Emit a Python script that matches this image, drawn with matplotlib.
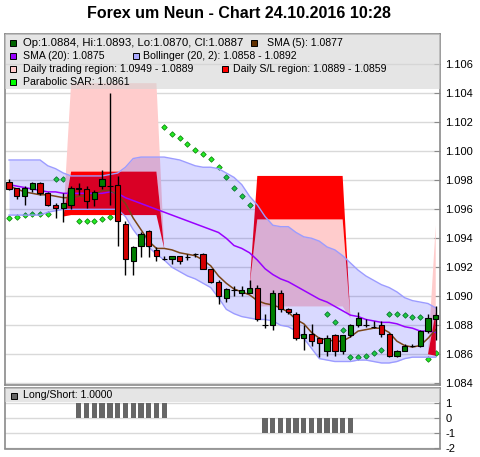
import numpy as np
import matplotlib
matplotlib.use("Agg")
import matplotlib.pyplot as plt
from matplotlib.patches import Rectangle

plt.rcParams['font.family'] = ['Liberation Sans', 'DejaVu Sans']

N = float('nan')

# EUR/USD candles
opens = [1.0979, 1.0975, 1.0969, 1.0974, 1.0978, 1.0971, 1.0963, 1.0961, 1.0963, 1.0975,
         1.0974, 1.0967, 1.0976, 1.0976, 1.0977, 1.0950, 1.0924, 1.0935, 1.0945, 1.0932,
         1.0926, 1.0926, 1.0928, 1.0927, 1.0929, 1.0929, 1.0919, 1.0910, 1.0899, 1.0904,
         1.0902, 1.0902, 1.0906, 1.0880, 1.0880, 1.0902, 1.0891, 1.0888, 1.0871, 1.0874,
         1.0871, 1.0862, 1.0873, 1.0862, 1.0873, 1.0880, 1.0880, 1.0879, 1.0880, 1.0874,
         1.0859, 1.0862, 1.0866, 1.0866, 1.0876, 1.0884]
highs = [1.0981, 1.0975, 1.0976, 1.0979, 1.0979, 1.0972, 1.0964, 1.0971, 1.0976, 1.0978,
         1.0976, 1.0973, 1.0987, 1.1040, 1.0983, 1.0952, 1.0935, 1.0944, 1.0946, 1.0934,
         1.0928, 1.0928, 1.0928, 1.0929, 1.0930, 1.0930, 1.0919, 1.0911, 1.0906, 1.0907,
         1.0907, 1.0911, 1.0908, 1.0888, 1.0904, 1.0904, 1.0892, 1.0889, 1.0880, 1.0881,
         1.0872, 1.0873, 1.0874, 1.0873, 1.0881, 1.0889, 1.0884, 1.0883, 1.0883, 1.0875,
         1.0863, 1.0867, 1.0867, 1.0877, 1.0888, 1.0893]
lows = [1.0973, 1.0967, 1.0963, 1.0972, 1.0970, 1.0962, 1.0954, 1.0951, 1.0960, 1.0970,
        1.0961, 1.0962, 1.0974, 1.0963, 1.0935, 1.0915, 1.0915, 1.0927, 1.0927, 1.0924,
        1.0925, 1.0922, 1.0922, 1.0925, 1.0927, 1.0919, 1.0909, 1.0895, 1.0896, 1.0900,
        1.0900, 1.0902, 1.0883, 1.0878, 1.0877, 1.0889, 1.0888, 1.0870, 1.0863, 1.0866,
        1.0858, 1.0859, 1.0859, 1.0860, 1.0872, 1.0879, 1.0879, 1.0878, 1.0872, 1.0858,
        1.0858, 1.0862, 1.0865, 1.0865, 1.0875, 1.0870]
closes = [1.0974, 1.0969, 1.0975, 1.0978, 1.0971, 1.0963, 1.0961, 1.0964, 1.0975, 1.0974,
          1.0966, 1.0972, 1.0981, 1.0976, 1.0952, 1.0926, 1.0934, 1.0943, 1.0935, 1.0928,
          1.0926, 1.0928, 1.0924, 1.0927, 1.0929, 1.0919, 1.0910, 1.0900, 1.0905, 1.0904,
          1.0904, 1.0906, 1.0884, 1.0880, 1.0902, 1.0891, 1.0889, 1.0871, 1.0874, 1.0869,
          1.0868, 1.0871, 1.0862, 1.0873, 1.0880, 1.0885, 1.0880, 1.0879, 1.0874, 1.0859,
          1.0862, 1.0866, 1.0866, 1.0876, 1.0885, 1.0887]

# indicators
sma5 = [1.0976, 1.0974, 1.0972, 1.0971, 1.0970, 1.0970, 1.0969, 1.0968, 1.0968, 1.0969,
        1.0969, 1.0970, 1.0973, 1.0973, 1.0970, 1.0964, 1.0954, 1.0946, 1.0938, 1.0933,
        1.0933, 1.0932, 1.0930, 1.0929, 1.0928, 1.0925, 1.0921, 1.0914, 1.0909, 1.0905,
        1.0903, 1.0901, 1.0897, 1.0895, 1.0894, 1.0892, 1.0889, 1.0884, 1.0881, 1.0875,
        1.0871, 1.0870, 1.0869, 1.0869, 1.0872, 1.0876, 1.0877, 1.0878, 1.0878, 1.0875,
        1.0869, 1.0866, 1.0865, 1.0866, 1.0871, 1.0877]
sma20 = [1.0977, 1.0976, 1.0975, 1.0974, 1.0973, 1.0972, 1.0972, 1.0971, 1.0971, 1.0971,
         1.0971, 1.0971, 1.0971, 1.0972, 1.0971, 1.0968, 1.0966, 1.0964, 1.0962, 1.0960,
         1.0958, 1.0956, 1.0954, 1.0952, 1.0950, 1.0948, 1.0946, 1.0944, 1.0940, 1.0935,
         1.0933, 1.0930, 1.0925, 1.0919, 1.0915, 1.0912, 1.0910, 1.0907, 1.0904, 1.0901,
         1.0898, 1.0896, 1.0893, 1.0890, 1.0887, 1.0886, 1.0884, 1.0883, 1.0882, 1.0882,
         1.0881, 1.0879, 1.0878, 1.0876, 1.0876, 1.0875]
boll_hi = [1.0994, 1.0994, 1.0994, 1.0994, 1.0994, 1.0990, 1.0988, 1.0985, 1.0983, 1.0983,
           1.0983, 1.0983, 1.0983, 1.0984, 1.0985, 1.0989, 1.0995, 1.0996, 1.0996, 1.0996,
           1.0996, 1.0995, 1.0994, 1.0992, 1.0990, 1.0989, 1.0989, 1.0988, 1.0985, 1.0982,
           1.0977, 1.0969, 1.0963, 1.0955, 1.0949, 1.0948, 1.0948, 1.0944, 1.0941, 1.0940,
           1.0938, 1.0934, 1.0932, 1.0928, 1.0923, 1.0918, 1.0914, 1.0911, 1.0908, 1.0906,
           1.0903, 1.0899, 1.0897, 1.0896, 1.0895, 1.0892]
boll_lo = [1.0956, 1.0956, 1.0956, 1.0956, 1.0956, 1.0958, 1.0959, 1.0960, 1.0960, 1.0960,
           1.0960, 1.0960, 1.0960, 1.0960, 1.0960, 1.0955, 1.0946, 1.0939, 1.0934, 1.0929,
           1.0925, 1.0920, 1.0917, 1.0914, 1.0912, 1.0909, 1.0906, 1.0899, 1.0891, 1.0888,
           1.0886, 1.0885, 1.0884, 1.0884, 1.0883, 1.0880, 1.0879, 1.0876, 1.0871, 1.0864,
           1.0857, 1.0856, 1.0855, 1.0855, 1.0855, 1.0856, 1.0856, 1.0855, 1.0854, 1.0854,
           1.0855, 1.0857, 1.0858, 1.0858, 1.0858, 1.0858]
sar = [1.0954, 1.0955, 1.0956, 1.0957, 1.0957, 1.0957, 1.0981, 1.0981, N, 1.0952,
       1.0952, 1.0952, 1.0953, 1.0955, N, N, N, N, N, N,
       1.1017, 1.1012, 1.1009, 1.1005, 1.1001, 1.0998, 1.0995, 1.0989, 1.0982, 1.0975,
       1.0969, 1.0963, N, N, N, N, N, N, N, N,
       N, 1.0888, 1.0882, 1.0877, 1.0858, 1.0858, 1.0859, 1.0861, 1.0863, 1.0888,
       1.0888, 1.0887, 1.0886, 1.0886, 1.0857, 1.0861]

# daily trading region and S/L region (bounds per candle)
trade_hi = [N] * 7 + [1.0955] + [1.1047] * 12 + [1.0933] + [N] * 10 + [1.0907] + \
           [1.0953] * 12 + [1.0885] + [N] * 9 + [1.0860, 1.0949]
trade_lo = [N] * 7 + [1.0955] + [1.0986] * 12 + [1.0933] + [N] * 10 + [1.0907] + \
           [1.0893] * 12 + [1.0885] + [N] * 9 + [1.0860, 1.0889]
sl_hi = [N] * 7 + [1.0955] + [1.0986] * 12 + [1.0933] + [N] * 10 + [1.0907] + \
        [1.0983] * 12 + [1.0885] + [N] * 9 + [1.0860, 1.0889]
sl_lo = [N] * 7 + [1.0955] + [1.0956] * 12 + [1.0933] + [N] * 10 + [1.0907] + \
        [1.0953] * 12 + [1.0885] + [N] * 9 + [1.0860, 1.0859]

# position indicator
long_short = [0] * 9 + [1] * 12 + [0] * 12 + [-1] * 12 + [0] * 11

price_ticks = [1.084, 1.086, 1.088, 1.090, 1.092, 1.094, 1.096, 1.098, 1.100, 1.102, 1.104, 1.106]
pos_ticks = [1, 0, -1, -2]

W, H = 480, 457
fig = plt.figure(figsize=(W / 100, H / 100), dpi=100)
fig.patch.set_facecolor('white')


def px_rect(l, t, r, b):
    return [l / W, 1 - b / H, (r - l) / W, (b - t) / H]


MAIN = (5, 34, 440, 385)
LOWER = (5, 388, 440, 448.5)
ax = fig.add_axes(px_rect(*MAIN))
ax2 = fig.add_axes(px_rect(*LOWER))

x = np.arange(len(closes))
o, h, l, c = map(np.array, (opens, highs, lows, closes))

frame_col = '#8a8a8a'
grid_col = '#d9d9d9'

for a in (ax, ax2):
    a.set_facecolor('white')
    for s in a.spines.values():
        s.set_color(frame_col)
        s.set_linewidth(1.2)
    a.set_xlim(-0.52, 55.55)
    a.set_xticks([])
    a.yaxis.tick_right()
    a.tick_params(axis='y', direction='in', length=4, color=frame_col,
                  labelsize=8, pad=4)
    a.yaxis.grid(True, color=grid_col, lw=1)
    a.set_axisbelow(True)

# ---- price panel ----
ax.set_ylim(1.08388, 1.10809)
ax.set_yticks(price_ticks)
ax.set_yticklabels([f'{t:.3f}' for t in price_ticks])

ax.plot(x, sar, ls='none', marker='D', ms=2.8, mfc='#22ee22', mec='#118811',
        mew=0.6, zorder=2)

ax.fill_between(x, trade_lo, trade_hi, color='#ffcccc', lw=0, zorder=2.5)
ax.fill_between(x, sl_lo, sl_hi, color='#ff0000', lw=0, zorder=2.6)

ax.fill_between(x, boll_lo, boll_hi, color='#0000ff', alpha=0.15, lw=0, zorder=3)
ax.plot(x, boll_hi, color='#9c9cff', lw=1, zorder=3.1)
ax.plot(x, boll_lo, color='#9c9cff', lw=1, zorder=3.1)

ax.plot(x, sma20, color='#9900ff', lw=1.1, zorder=4)
ax.plot(x, sma5, color='#7a4416', lw=1.1, zorder=4)

body_col = np.where(c > o, '#008000', np.where(c < o, '#d40000', 'black'))
ax.vlines(x, l, h, color='black', lw=1, zorder=5)
ax.bar(x, np.abs(c - o), bottom=np.minimum(o, c), width=0.68, color=body_col,
       edgecolor='black', lw=0.8, zorder=6)

# ---- position panel ----
ax2.set_ylim(-2, 1.95)
ax2.set_yticks(pos_ticks)
ax2.set_yticklabels([str(t) for t in pos_ticks])
ax2.bar(x, long_short, width=0.68, color='#666666', lw=0, zorder=2)


def legend_box(a, box, top, bottom):
    L, T, R, B = box
    y0 = (B - bottom) / (B - T)
    y1 = (B - top) / (B - T)
    a.add_patch(Rectangle((0, y0), 1, y1 - y0, transform=a.transAxes,
                          facecolor='#d4d4d4', alpha=0.6, lw=0, zorder=10))


def legend_entry(a, box, sx, tx, py, color, label, size=7.6):
    L, T, R, B = box
    fy = (B - py) / (B - T)
    a.plot([(sx - L) / (R - L)], [fy], marker='s', ms=5, mfc=color, mec='black',
           mew=0.7, transform=a.transAxes, clip_on=False, zorder=11)
    a.text((tx - L) / (R - L), fy, label, transform=a.transAxes, ha='left',
           va='center', fontsize=size, color='black', zorder=11)


legend_box(ax, MAIN, 34, 89)
legend_entry(ax, MAIN, 13, 23, 43, '#006400', 'Op:1.0884, Hi:1.0893, Lo:1.0870, Cl:1.0887', 8.2)
legend_entry(ax, MAIN, 254, 267, 43, '#603000', 'SMA (5): 1.0877')
legend_entry(ax, MAIN, 13, 23, 56, '#9900ff', 'SMA (20): 1.0875')
legend_entry(ax, MAIN, 136, 143, 56, '#aaaaff', 'Bollinger (20, 2): 1.0858 - 1.0892')
legend_entry(ax, MAIN, 13, 23, 69, '#ffcccc', 'Daily trading region: 1.0949 - 1.0889')
legend_entry(ax, MAIN, 225, 233, 69, '#ff0000', 'Daily S/L region: 1.0889 - 1.0859')
legend_entry(ax, MAIN, 13, 23, 82, '#00ff00', 'Parabolic SAR: 1.0861')

legend_box(ax2, LOWER, 388, 402)
legend_entry(ax2, LOWER, 14, 23, 395.5, '#666666', 'Long/Short: 1.0000')

fig.text(239 / W, 1 - 13 / H, 'Forex um Neun - Chart 24.10.2016 10:28',
         ha='center', va='center', fontsize=11.5, fontweight='bold')

fig.savefig('out.png', dpi=100, facecolor='white')
